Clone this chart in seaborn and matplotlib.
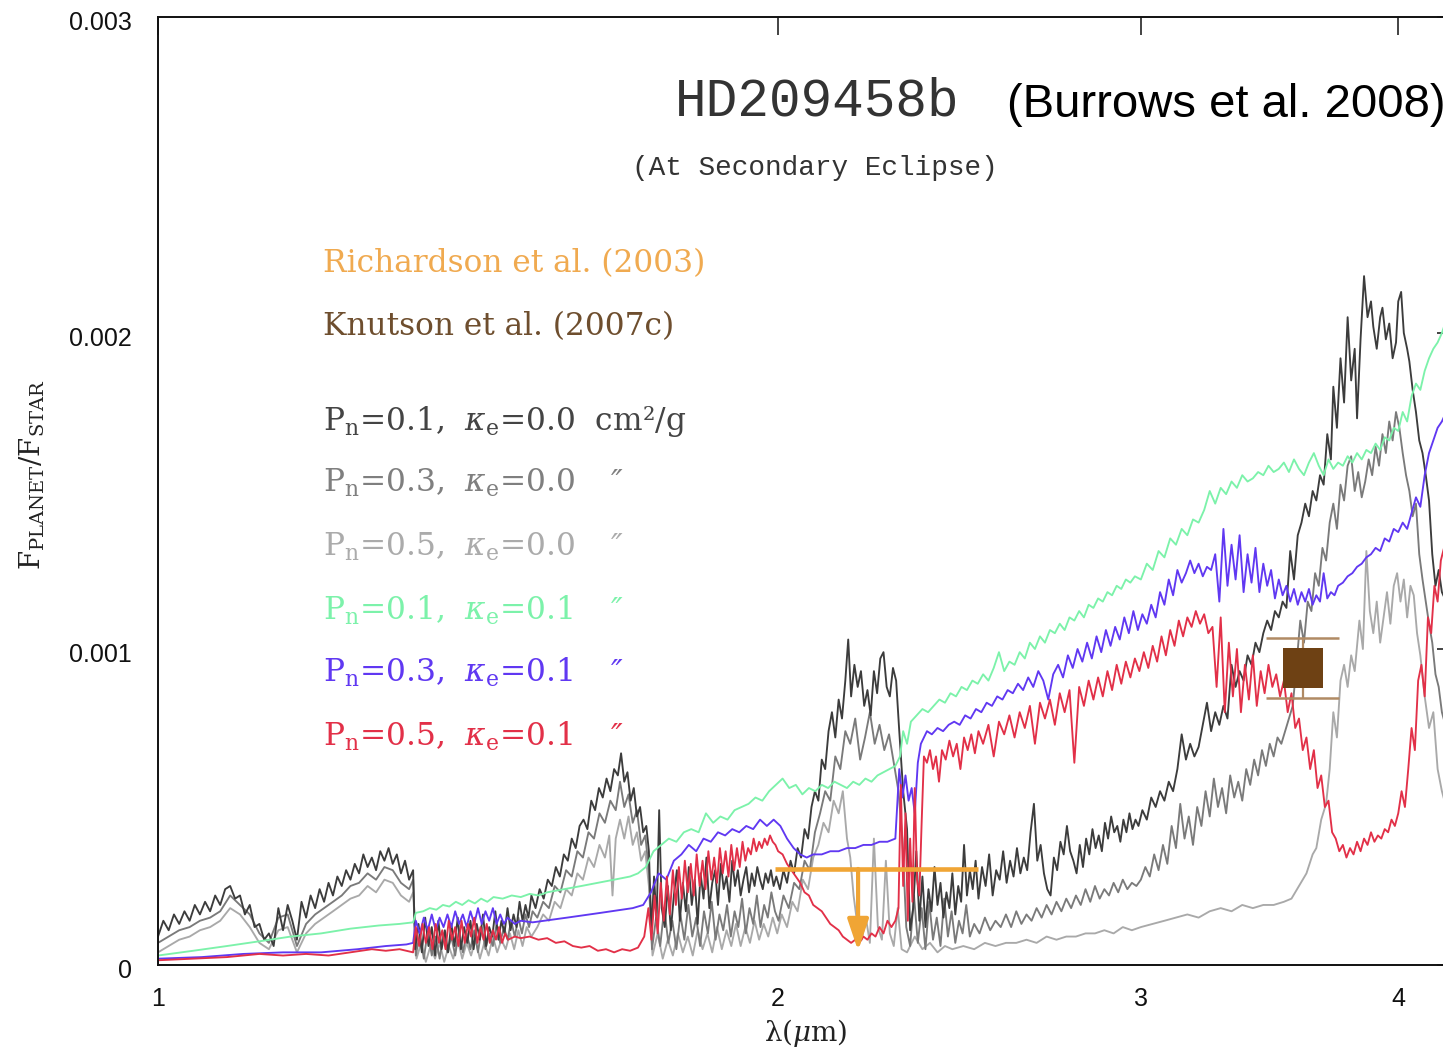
import numpy as np
import pandas as pd
import matplotlib
matplotlib.use("Agg")
import matplotlib.pyplot as plt
import matplotlib.transforms as mtransforms
from matplotlib.ticker import NullLocator, FixedLocator
import seaborn as sns

sns.set_style("white")
plt.rcParams['font.family'] = ['DejaVu Serif']
plt.rcParams['mathtext.fontset'] = 'dejavuserif'

# ---------------- data (wavelength in micron, flux ratio in units of 1e-3) ----------------
dark_pts = [
 (1.000,0.09),(1.006,0.14),(1.012,0.11),(1.018,0.16),(1.024,0.13),(1.030,0.17),(1.036,0.14),(1.042,0.19),(1.048,0.16),(1.054,0.20),
 (1.060,0.17),(1.066,0.22),(1.072,0.19),(1.078,0.24),(1.084,0.25),(1.090,0.21),(1.096,0.22),(1.102,0.16),(1.108,0.19),(1.114,0.12),
 (1.120,0.13),(1.126,0.08),(1.132,0.10),(1.138,0.06),(1.144,0.18),(1.150,0.11),(1.156,0.19),(1.162,0.14),(1.168,0.08),(1.174,0.20),
 (1.180,0.15),(1.186,0.22),(1.192,0.18),(1.198,0.24),(1.204,0.20),(1.210,0.26),(1.216,0.22),(1.222,0.28),(1.228,0.25),(1.234,0.30),
 (1.240,0.27),(1.246,0.32),(1.252,0.29),(1.258,0.35),(1.264,0.31),(1.270,0.34),(1.276,0.30),(1.282,0.36),(1.288,0.33),(1.294,0.37),
 (1.300,0.32),(1.306,0.35),(1.312,0.29),(1.318,0.33),(1.324,0.27),(1.330,0.30),
 (1.333,0.05),(1.338,0.13),(1.343,0.04),(1.348,0.15),(1.353,0.06),(1.358,0.12),(1.363,0.03),(1.368,0.14),(1.373,0.05),(1.378,0.11),
 (1.383,0.04),(1.388,0.13),(1.393,0.06),(1.398,0.15),(1.403,0.05),(1.408,0.12),(1.413,0.07),(1.418,0.14),(1.423,0.05),(1.428,0.13),
 (1.433,0.08),(1.438,0.16),(1.443,0.06),(1.448,0.12),(1.453,0.09),(1.458,0.17),(1.463,0.08),(1.468,0.14),(1.473,0.10),(1.478,0.18),
 (1.483,0.11),(1.488,0.16),(1.493,0.12),(1.498,0.20),(1.503,0.14),(1.508,0.19),(1.513,0.15),(1.518,0.22),
 (1.525,0.18),(1.532,0.24),(1.539,0.21),(1.546,0.27),(1.553,0.25),(1.560,0.31),(1.567,0.28),(1.574,0.35),(1.581,0.33),(1.588,0.40),
 (1.595,0.37),(1.602,0.44),(1.609,0.46),(1.616,0.43),(1.623,0.52),(1.630,0.49),(1.637,0.56),(1.644,0.53),(1.651,0.59),(1.658,0.55),
 (1.665,0.62),(1.672,0.60),(1.678,0.67),(1.684,0.58),(1.690,0.61),(1.696,0.52),(1.702,0.56),(1.708,0.47),(1.714,0.50),(1.720,0.42),
 (1.726,0.44),(1.731,0.36),
 (1.736,0.10),(1.741,0.28),(1.746,0.14),(1.751,0.49),(1.756,0.18),(1.762,0.12),(1.768,0.25),(1.774,0.11),(1.780,0.22),(1.786,0.30),
 (1.792,0.14),(1.798,0.26),(1.804,0.17),(1.810,0.31),(1.816,0.19),(1.822,0.27),(1.828,0.13),(1.834,0.29),(1.840,0.21),(1.846,0.34),
 (1.852,0.18),(1.858,0.26),(1.864,0.30),(1.870,0.19),(1.876,0.32),(1.882,0.24),(1.888,0.28),(1.894,0.20),(1.900,0.33),(1.906,0.25),
 (1.912,0.30),(1.918,0.22),(1.924,0.27),(1.930,0.31),(1.936,0.23),(1.942,0.29),(1.948,0.25),(1.954,0.31),(1.960,0.27),(1.966,0.24),
 (1.972,0.29),(1.978,0.26),(1.984,0.30),(1.990,0.25),(1.996,0.28),
 (2.004,0.24),(2.012,0.30),(2.020,0.26),(2.028,0.33),(2.036,0.29),(2.044,0.37),(2.052,0.34),(2.060,0.43),(2.068,0.40),(2.076,0.50),
 (2.084,0.55),(2.092,0.52),(2.100,0.65),(2.108,0.62),(2.116,0.74),(2.124,0.80),(2.132,0.72),(2.140,0.84),(2.148,0.78),(2.156,0.90),
 (2.163,1.03),(2.170,0.85),(2.178,0.95),(2.186,0.88),(2.194,0.93),(2.202,0.82),(2.210,0.87),(2.218,0.79),(2.226,0.93),(2.234,0.86),
 (2.242,0.97),(2.250,0.99),(2.258,0.88),(2.266,0.85),(2.274,0.94),(2.282,0.90),(2.290,0.74),(2.300,0.55),(2.310,0.43),(2.318,0.11),
 (2.326,0.18),(2.334,0.36),(2.342,0.14),(2.350,0.28),(2.358,0.12),(2.366,0.24),(2.374,0.17),(2.382,0.31),(2.390,0.19),(2.398,0.26),
 (2.406,0.15),(2.414,0.23),(2.422,0.18),(2.430,0.29),(2.438,0.16),(2.446,0.25),(2.454,0.20),(2.462,0.38),(2.470,0.22),(2.478,0.30),
 (2.486,0.24),(2.494,0.33),(2.502,0.21),(2.512,0.31),(2.522,0.25),(2.532,0.35),(2.542,0.22),(2.552,0.30),(2.562,0.27),(2.572,0.36),
 (2.582,0.26),(2.592,0.33),(2.602,0.28),(2.612,0.37),(2.622,0.29),(2.632,0.34),(2.642,0.30),(2.652,0.42),(2.662,0.51),(2.672,0.33),
 (2.682,0.38),(2.692,0.29),(2.702,0.24),(2.712,0.22),(2.722,0.34),(2.732,0.30),(2.742,0.39),(2.752,0.35),(2.762,0.44),(2.772,0.36),
 (2.782,0.33),(2.792,0.29),(2.802,0.38),(2.812,0.31),(2.822,0.40),(2.832,0.35),(2.842,0.43),(2.852,0.37),(2.862,0.41),(2.872,0.36),
 (2.882,0.45),(2.892,0.40),(2.902,0.47),(2.912,0.42),(2.922,0.44),(2.932,0.39),(2.942,0.46),(2.952,0.42),(2.962,0.48),(2.972,0.43),
 (2.982,0.46),(2.992,0.44),
 (3.005,0.49),(3.020,0.46),(3.035,0.53),(3.050,0.50),(3.065,0.55),(3.080,0.52),(3.095,0.58),(3.110,0.55),(3.125,0.62),(3.140,0.73),
 (3.155,0.65),(3.170,0.70),(3.185,0.66),(3.200,0.69),(3.215,0.76),(3.230,0.83),(3.245,0.74),(3.260,0.80),(3.275,0.76),(3.290,0.82),
 (3.305,0.78),(3.320,0.95),(3.335,0.88),(3.350,0.93),(3.365,0.90),(3.380,0.98),(3.395,0.95),(3.410,1.02),(3.425,0.99),(3.440,1.05),
 (3.455,1.09),(3.470,1.06),(3.485,1.12),(3.500,1.10),(3.515,1.15),(3.530,1.13),(3.545,1.31),(3.560,1.22),(3.575,1.36),(3.590,1.40),
 (3.605,1.46),(3.620,1.42),(3.635,1.50),(3.650,1.47),(3.665,1.55),(3.680,1.52),(3.695,1.68),(3.710,1.60),(3.720,1.83),(3.735,1.70),
 (3.750,1.92),(3.765,1.78),(3.780,2.05),(3.795,1.85),(3.810,1.95),(3.820,1.73),(3.835,1.98),(3.850,2.18),(3.865,2.05),(3.880,2.10),
 (3.890,2.02),(3.905,1.95),(3.920,2.05),(3.930,2.08),(3.945,1.98),(3.960,2.03),(3.975,1.92),(3.990,1.97),(4.000,2.10),(4.013,2.13),
 (4.025,2.00),(4.040,1.95),(4.050,1.91),(4.065,1.82),(4.080,1.75),(4.095,1.66),(4.110,1.62),(4.125,1.55),(4.140,1.47),(4.155,1.30),
 (4.170,1.20),(4.185,1.25),(4.200,1.18),(4.220,1.15),
]

mid_pts = [
 (1.000,0.07),(1.012,0.09),(1.024,0.11),(1.036,0.12),(1.048,0.14),(1.060,0.15),(1.072,0.17),(1.084,0.22),(1.096,0.19),(1.108,0.16),
 (1.120,0.10),(1.132,0.07),(1.144,0.15),(1.156,0.16),(1.168,0.06),(1.180,0.13),(1.192,0.16),(1.204,0.18),(1.216,0.20),(1.228,0.22),
 (1.240,0.25),(1.252,0.26),(1.264,0.29),(1.276,0.27),(1.288,0.31),(1.300,0.30),(1.312,0.26),(1.324,0.24),(1.330,0.27),
 (1.334,0.03),(1.340,0.10),(1.346,0.02),(1.352,0.11),(1.358,0.03),(1.364,0.09),(1.370,0.02),(1.376,0.10),(1.382,0.04),(1.388,0.09),
 (1.394,0.03),(1.400,0.11),(1.406,0.04),(1.412,0.10),(1.418,0.05),(1.424,0.11),(1.430,0.04),(1.436,0.12),(1.442,0.05),(1.448,0.10),
 (1.454,0.06),(1.460,0.13),(1.466,0.07),(1.472,0.12),(1.478,0.08),(1.484,0.14),(1.490,0.09),(1.496,0.15),(1.502,0.10),(1.508,0.16),
 (1.514,0.12),(1.520,0.17),
 (1.528,0.15),(1.538,0.20),(1.548,0.18),(1.558,0.25),(1.568,0.23),(1.578,0.30),(1.588,0.28),(1.598,0.36),(1.608,0.34),(1.618,0.42),
 (1.628,0.40),(1.638,0.48),(1.648,0.45),(1.658,0.52),(1.668,0.49),(1.676,0.58),(1.684,0.50),(1.692,0.54),(1.700,0.45),(1.708,0.49),
 (1.716,0.38),(1.724,0.41),(1.731,0.30),
 (1.737,0.05),(1.745,0.15),(1.753,0.06),(1.761,0.18),(1.769,0.07),(1.777,0.14),(1.785,0.05),(1.793,0.16),(1.801,0.08),(1.809,0.19),
 (1.817,0.09),(1.825,0.15),(1.833,0.06),(1.841,0.17),(1.849,0.10),(1.857,0.20),(1.865,0.08),(1.873,0.16),(1.881,0.11),(1.889,0.19),
 (1.897,0.09),(1.905,0.17),(1.913,0.12),(1.921,0.21),(1.929,0.10),(1.937,0.18),(1.945,0.13),(1.953,0.22),(1.961,0.12),(1.969,0.19),
 (1.977,0.15),(1.985,0.23),(1.993,0.17),
 (2.001,0.14),(2.012,0.22),(2.024,0.18),(2.036,0.26),(2.048,0.24),(2.060,0.33),(2.072,0.30),(2.084,0.42),(2.096,0.48),(2.108,0.55),
 (2.120,0.52),(2.132,0.66),(2.144,0.62),(2.156,0.74),(2.168,0.70),(2.180,0.78),(2.192,0.65),(2.204,0.72),(2.216,0.80),(2.228,0.70),
 (2.240,0.76),(2.252,0.68),(2.264,0.73),(2.276,0.64),(2.288,0.55),(2.298,0.40),(2.308,0.12),
 (2.318,0.06),(2.328,0.22),(2.338,0.07),(2.348,0.18),(2.358,0.05),(2.368,0.20),(2.378,0.08),(2.388,0.15),(2.398,0.06),(2.408,0.21),
 (2.418,0.09),(2.428,0.17),(2.438,0.07),(2.448,0.14),(2.458,0.10),(2.468,0.19),(2.478,0.09),(2.490,0.13),(2.505,0.10),(2.520,0.15),
 (2.535,0.11),(2.550,0.14),(2.565,0.12),(2.580,0.16),(2.595,0.12),(2.610,0.17),(2.625,0.13),(2.640,0.16),(2.655,0.14),(2.670,0.18),
 (2.685,0.15),(2.700,0.19),(2.715,0.16),(2.730,0.20),(2.745,0.17),(2.760,0.21),(2.775,0.18),(2.790,0.22),(2.805,0.19),(2.820,0.24),
 (2.835,0.20),(2.850,0.25),(2.865,0.21),(2.880,0.24),(2.895,0.22),(2.910,0.26),(2.925,0.23),(2.940,0.27),(2.955,0.24),(2.970,0.26),
 (2.985,0.25),
 (3.000,0.27),(3.015,0.31),(3.030,0.28),(3.045,0.35),(3.060,0.30),(3.075,0.38),(3.090,0.32),(3.105,0.44),(3.120,0.37),(3.135,0.51),
 (3.150,0.40),(3.165,0.47),(3.180,0.38),(3.195,0.50),(3.210,0.44),(3.225,0.55),(3.240,0.47),(3.255,0.59),(3.270,0.50),(3.285,0.56),
 (3.300,0.48),(3.315,0.60),(3.330,0.53),(3.345,0.58),(3.360,0.52),(3.375,0.62),(3.390,0.57),(3.405,0.65),(3.420,0.60),(3.435,0.68),
 (3.450,0.63),(3.465,0.70),(3.480,0.66),(3.495,0.72),(3.510,0.70),(3.525,0.74),(3.540,0.78),(3.555,0.82),(3.570,0.95),(3.585,1.09),
 (3.600,1.02),(3.615,1.15),(3.630,1.12),(3.645,1.24),(3.660,1.20),(3.675,1.32),(3.690,1.28),(3.705,1.40),(3.720,1.46),(3.735,1.38),
 (3.750,1.52),(3.765,1.47),(3.780,1.58),(3.795,1.61),(3.810,1.50),(3.825,1.56),(3.840,1.48),(3.855,1.53),(3.870,1.60),(3.885,1.55),
 (3.900,1.64),(3.915,1.58),(3.930,1.68),(3.945,1.62),(3.960,1.72),(3.975,1.66),(3.990,1.75),(4.005,1.70),(4.020,1.62),(4.035,1.55),
 (4.050,1.50),(4.065,1.42),(4.080,1.46),(4.095,1.30),(4.110,1.22),(4.125,1.15),(4.140,1.08),(4.155,1.02),(4.170,0.92),(4.185,0.88),
 (4.200,0.80),(4.220,0.75),
]

light_pts = [
 (1.000,0.04),(1.012,0.06),(1.024,0.08),(1.036,0.09),(1.048,0.11),(1.060,0.12),(1.072,0.14),(1.084,0.18),(1.096,0.16),(1.108,0.12),
 (1.120,0.07),(1.132,0.05),(1.144,0.11),(1.156,0.12),(1.168,0.04),(1.180,0.10),(1.192,0.13),(1.204,0.15),(1.216,0.17),(1.228,0.19),
 (1.240,0.21),(1.252,0.22),(1.264,0.25),(1.276,0.23),(1.288,0.27),(1.300,0.26),(1.312,0.22),(1.324,0.20),(1.330,0.23),
 (1.335,0.02),(1.342,0.07),(1.349,0.01),(1.356,0.06),(1.363,0.02),(1.370,0.07),(1.377,0.01),(1.384,0.06),(1.391,0.02),(1.398,0.08),
 (1.405,0.02),(1.412,0.07),(1.419,0.03),(1.426,0.08),(1.433,0.02),(1.440,0.07),(1.447,0.03),(1.454,0.09),(1.461,0.04),(1.468,0.08),
 (1.475,0.05),(1.482,0.10),(1.489,0.05),(1.496,0.11),(1.503,0.06),(1.510,0.12),(1.518,0.09),
 (1.528,0.12),(1.538,0.16),(1.548,0.14),(1.558,0.20),(1.568,0.18),(1.578,0.24),(1.588,0.22),(1.598,0.29),(1.608,0.27),(1.618,0.34),
 (1.628,0.31),(1.638,0.38),(1.648,0.34),(1.656,0.41),(1.662,0.22),(1.668,0.40),(1.676,0.46),(1.684,0.40),(1.692,0.47),(1.700,0.38),
 (1.708,0.42),(1.716,0.33),(1.724,0.36),(1.731,0.25),
 (1.738,0.03),(1.748,0.10),(1.758,0.02),(1.768,0.08),(1.778,0.03),(1.788,0.10),(1.798,0.04),(1.808,0.09),(1.818,0.03),(1.828,0.11),
 (1.838,0.05),(1.848,0.10),(1.858,0.04),(1.868,0.12),(1.878,0.05),(1.888,0.11),(1.898,0.06),(1.908,0.13),(1.918,0.06),(1.928,0.12),
 (1.938,0.07),(1.948,0.14),(1.958,0.08),(1.968,0.13),(1.978,0.09),(1.988,0.15),(1.998,0.10),
 (2.008,0.16),(2.020,0.12),(2.032,0.20),(2.044,0.17),(2.056,0.27),(2.068,0.24),(2.080,0.34),(2.092,0.38),(2.104,0.45),(2.116,0.42),
 (2.128,0.52),(2.140,0.48),(2.150,0.55),(2.160,0.40),(2.168,0.34),(2.176,0.22),(2.186,0.12),(2.196,0.08),(2.206,0.15),(2.216,0.07),
 (2.226,0.40),(2.236,0.12),(2.246,0.08),(2.256,0.33),(2.266,0.10),(2.276,0.06),(2.286,0.18),(2.296,0.05),
 (2.310,0.04),(2.330,0.09),(2.350,0.05),(2.370,0.07),(2.390,0.04),(2.410,0.06),(2.430,0.05),(2.460,0.06),(2.490,0.05),(2.520,0.07),
 (2.550,0.06),(2.580,0.07),(2.610,0.07),(2.640,0.08),(2.670,0.07),(2.700,0.09),(2.730,0.08),(2.760,0.09),(2.790,0.09),(2.820,0.10),
 (2.850,0.10),(2.880,0.11),(2.910,0.10),(2.940,0.12),(2.970,0.11),
 (3.000,0.12),(3.040,0.13),(3.080,0.14),(3.120,0.15),(3.160,0.16),(3.200,0.15),(3.240,0.17),(3.280,0.18),(3.320,0.17),(3.360,0.19),
 (3.400,0.18),(3.440,0.19),(3.480,0.19),(3.520,0.20),(3.550,0.21),(3.580,0.25),(3.610,0.29),(3.635,0.35),(3.650,0.37),(3.670,0.46),
 (3.690,0.51),(3.705,0.62),(3.720,0.80),(3.735,0.72),(3.750,0.90),(3.765,0.95),(3.780,0.88),(3.795,0.98),(3.810,0.93),(3.830,1.09),
 (3.845,1.00),(3.860,1.31),(3.875,1.12),(3.890,1.05),(3.905,1.15),(3.920,1.02),(3.935,1.10),(3.950,1.18),(3.965,1.08),(3.980,1.20),
 (3.995,1.24),(4.010,1.15),(4.025,1.22),(4.040,1.10),(4.055,1.20),(4.070,1.17),(4.085,1.05),(4.100,0.98),(4.120,0.85),(4.140,0.75),
 (4.160,0.80),(4.180,0.62),(4.200,0.55),(4.220,0.50),
]

green_pts = [
 (1.00,0.03),(1.04,0.045),(1.08,0.06),(1.12,0.075),(1.16,0.09),(1.20,0.10),(1.24,0.115),(1.28,0.125),(1.31,0.13),(1.330,0.135),
 (1.334,0.165),(1.345,0.17),(1.355,0.18),(1.365,0.175),(1.375,0.19),(1.385,0.185),(1.395,0.20),(1.405,0.19),(1.415,0.205),(1.425,0.195),
 (1.435,0.21),(1.445,0.20),(1.455,0.215),(1.47,0.21),(1.485,0.22),(1.50,0.215),(1.515,0.225),(1.53,0.22),(1.545,0.23),(1.56,0.235),
 (1.575,0.24),(1.59,0.245),(1.605,0.25),(1.62,0.255),(1.635,0.26),(1.65,0.265),(1.665,0.27),(1.68,0.275),(1.695,0.28),(1.71,0.29),
 (1.725,0.31),(1.74,0.36),(1.755,0.38),(1.77,0.40),(1.785,0.39),(1.80,0.42),(1.815,0.43),(1.83,0.42),(1.845,0.48),(1.86,0.45),
 (1.875,0.47),(1.89,0.46),(1.905,0.49),(1.92,0.50),(1.935,0.51),(1.95,0.53),(1.965,0.52),(1.98,0.55),(1.995,0.57),(2.01,0.59),
 (2.025,0.56),(2.04,0.57),(2.055,0.54),(2.07,0.56),(2.085,0.55),(2.10,0.57),(2.115,0.56),(2.13,0.58),(2.145,0.57),(2.16,0.56),
 (2.175,0.58),(2.19,0.57),(2.205,0.59),(2.22,0.58),(2.235,0.60),(2.25,0.61),(2.265,0.62),(2.28,0.63),(2.292,0.66),(2.300,0.74),
 (2.31,0.70),(2.32,0.77),(2.335,0.79),(2.35,0.81),(2.365,0.80),(2.38,0.82),(2.395,0.84),(2.41,0.83),(2.425,0.86),(2.44,0.85),
 (2.455,0.88),(2.47,0.87),(2.485,0.90),(2.50,0.89),(2.515,0.92),(2.53,0.90),(2.545,0.94),(2.56,0.99),(2.575,0.93),(2.59,0.96),
 (2.605,0.95),(2.62,0.99),(2.635,0.97),(2.65,1.02),(2.665,1.00),(2.68,1.04),(2.695,1.02),(2.71,1.06),(2.725,1.05),(2.74,1.08),
 (2.755,1.06),(2.77,1.10),(2.785,1.09),(2.80,1.12),(2.815,1.10),(2.83,1.14),(2.845,1.13),(2.86,1.16),(2.875,1.15),(2.89,1.18),
 (2.905,1.17),(2.92,1.20),(2.935,1.19),(2.95,1.22),(2.965,1.21),(2.98,1.23),(3.00,1.22),(3.02,1.27),(3.04,1.25),(3.06,1.31),
 (3.08,1.29),(3.10,1.35),(3.12,1.33),(3.14,1.38),(3.16,1.36),(3.18,1.41),(3.20,1.40),(3.22,1.44),(3.24,1.50),(3.26,1.46),
 (3.28,1.51),(3.30,1.49),(3.32,1.53),(3.34,1.51),(3.36,1.55),(3.38,1.53),(3.40,1.54),(3.42,1.56),(3.44,1.55),(3.46,1.58),
 (3.48,1.56),(3.50,1.57),(3.52,1.59),(3.54,1.56),(3.56,1.60),(3.58,1.57),(3.60,1.55),(3.62,1.59),(3.64,1.62),(3.66,1.58),
 (3.68,1.55),(3.70,1.60),(3.72,1.57),(3.74,1.59),(3.76,1.58),(3.78,1.61),(3.80,1.59),(3.82,1.62),(3.84,1.60),(3.86,1.63),
 (3.88,1.62),(3.90,1.65),(3.92,1.63),(3.94,1.67),(3.96,1.66),(3.98,1.70),(4.00,1.69),(4.02,1.75),(4.04,1.72),(4.06,1.80),
 (4.08,1.84),(4.10,1.82),(4.12,1.88),(4.14,1.92),(4.16,1.95),(4.18,1.97),(4.20,2.00),(4.22,2.04),
]

blue_pts = [
 (1.00,0.02),(1.05,0.025),(1.10,0.035),(1.15,0.04),(1.20,0.04),(1.25,0.05),(1.29,0.06),(1.32,0.065),(1.330,0.07),
 (1.334,0.14),(1.340,0.10),(1.346,0.15),(1.352,0.11),(1.358,0.16),(1.364,0.11),(1.370,0.15),(1.376,0.12),(1.382,0.16),(1.388,0.12),
 (1.394,0.17),(1.400,0.13),(1.406,0.16),(1.412,0.12),(1.418,0.17),(1.424,0.13),(1.430,0.18),(1.436,0.13),(1.442,0.17),(1.448,0.14),
 (1.454,0.18),(1.460,0.13),(1.466,0.16),(1.472,0.13),(1.478,0.15),(1.49,0.13),(1.50,0.14),(1.52,0.135),(1.54,0.14),(1.56,0.145),
 (1.58,0.15),(1.60,0.155),(1.62,0.16),(1.64,0.165),(1.66,0.17),(1.68,0.175),(1.70,0.18),(1.72,0.19),(1.735,0.23),(1.75,0.29),
 (1.765,0.27),(1.78,0.33),(1.795,0.35),(1.81,0.38),(1.825,0.36),(1.84,0.40),(1.855,0.39),(1.87,0.42),(1.885,0.41),(1.90,0.43),
 (1.915,0.42),(1.93,0.44),(1.945,0.43),(1.96,0.46),(1.975,0.44),(1.99,0.46),(2.005,0.44),(2.02,0.40),(2.035,0.37),(2.05,0.35),
 (2.065,0.34),(2.08,0.35),(2.10,0.35),(2.12,0.36),(2.14,0.36),(2.16,0.37),(2.18,0.37),(2.20,0.38),(2.22,0.38),(2.24,0.39),
 (2.26,0.39),(2.28,0.40),(2.290,0.62),(2.298,0.53),(2.306,0.60),(2.314,0.52),(2.322,0.56),(2.330,0.48),(2.338,0.64),(2.346,0.70),
 (2.354,0.72),(2.362,0.74),(2.375,0.73),(2.39,0.75),(2.405,0.74),(2.42,0.76),(2.435,0.77),(2.45,0.76),(2.465,0.79),(2.48,0.78),
 (2.495,0.81),(2.51,0.80),(2.525,0.83),(2.54,0.82),(2.555,0.85),(2.57,0.84),(2.585,0.87),(2.60,0.86),(2.615,0.89),(2.63,0.87),
 (2.645,0.91),(2.66,0.88),(2.675,0.93),(2.69,0.90),(2.705,0.84),(2.72,0.92),(2.735,0.95),(2.75,0.91),(2.765,0.98),(2.78,0.94),
 (2.795,1.00),(2.81,0.96),(2.825,1.02),(2.84,0.97),(2.855,1.04),(2.87,0.99),(2.885,1.06),(2.90,1.01),(2.915,1.07),(2.93,1.03),
 (2.945,1.10),(2.96,1.05),(2.975,1.12),(2.99,1.06),(3.005,1.11),(3.02,1.08),(3.035,1.14),(3.05,1.10),(3.065,1.18),(3.08,1.14),
 (3.095,1.22),(3.11,1.17),(3.125,1.25),(3.14,1.21),(3.155,1.24),(3.17,1.28),(3.185,1.24),(3.20,1.27),(3.215,1.23),(3.23,1.26),
 (3.245,1.25),(3.26,1.30),(3.275,1.15),(3.29,1.38),(3.305,1.20),(3.32,1.33),(3.335,1.22),(3.35,1.36),(3.365,1.18),(3.38,1.30),
 (3.395,1.21),(3.41,1.32),(3.425,1.18),(3.44,1.27),(3.455,1.20),(3.47,1.25),(3.485,1.16),(3.50,1.22),(3.515,1.17),(3.53,1.20),
 (3.545,1.15),(3.56,1.19),(3.575,1.14),(3.59,1.18),(3.605,1.15),(3.62,1.19),(3.635,1.14),(3.65,1.17),(3.665,1.15),(3.68,1.24),
 (3.695,1.16),(3.71,1.18),(3.725,1.17),(3.74,1.20),(3.76,1.21),(3.78,1.23),(3.80,1.24),(3.82,1.26),(3.84,1.27),(3.86,1.29),
 (3.88,1.30),(3.90,1.32),(3.92,1.31),(3.94,1.35),(3.96,1.34),(3.98,1.38),(4.00,1.37),(4.02,1.40),(4.04,1.38),(4.06,1.43),
 (4.08,1.48),(4.10,1.45),(4.12,1.55),(4.14,1.62),(4.16,1.66),(4.18,1.70),(4.20,1.72),(4.22,1.75),
]

red_pts = [
 (1.00,0.015),(1.04,0.02),(1.08,0.025),(1.12,0.035),(1.15,0.03),(1.18,0.035),(1.21,0.03),(1.24,0.04),(1.27,0.05),(1.29,0.045),
 (1.31,0.05),(1.330,0.04),(1.334,0.12),(1.339,0.06),(1.344,0.13),(1.349,0.07),(1.354,0.12),(1.359,0.05),(1.364,0.13),(1.369,0.07),
 (1.374,0.11),(1.379,0.05),(1.384,0.14),(1.389,0.08),(1.394,0.12),(1.399,0.06),(1.404,0.14),(1.409,0.07),(1.414,0.13),(1.419,0.09),
 (1.424,0.15),(1.429,0.07),(1.434,0.12),(1.439,0.08),(1.444,0.13),(1.449,0.07),(1.454,0.11),(1.459,0.08),(1.464,0.12),(1.469,0.07),
 (1.474,0.10),(1.479,0.08),(1.49,0.09),(1.50,0.085),(1.515,0.09),(1.53,0.08),(1.545,0.085),(1.56,0.07),(1.575,0.075),(1.59,0.06),
 (1.605,0.055),(1.62,0.06),(1.635,0.045),(1.65,0.05),(1.665,0.04),(1.68,0.05),(1.695,0.045),(1.71,0.055),(1.722,0.09),(1.730,0.18),
 (1.736,0.08),(1.742,0.22),(1.748,0.10),(1.754,0.26),(1.760,0.14),(1.766,0.28),(1.772,0.16),(1.778,0.30),(1.784,0.19),(1.790,0.31),
 (1.796,0.21),(1.802,0.33),(1.808,0.23),(1.814,0.32),(1.820,0.22),(1.826,0.35),(1.832,0.25),(1.838,0.33),(1.844,0.24),(1.850,0.36),
 (1.856,0.27),(1.862,0.34),(1.868,0.26),(1.874,0.37),(1.880,0.29),(1.886,0.36),(1.892,0.28),(1.898,0.38),(1.904,0.30),(1.910,0.37),
 (1.916,0.31),(1.922,0.39),(1.928,0.33),(1.934,0.37),(1.940,0.35),(1.946,0.40),(1.952,0.36),(1.958,0.39),(1.964,0.37),(1.970,0.40),
 (1.976,0.38),(1.982,0.41),(1.988,0.39),(1.994,0.38),(2.00,0.36),(2.01,0.35),(2.02,0.32),(2.03,0.30),(2.04,0.28),(2.05,0.26),
 (2.06,0.23),(2.07,0.22),(2.08,0.19),(2.09,0.18),(2.10,0.17),(2.11,0.15),(2.12,0.13),(2.13,0.12),(2.14,0.11),(2.15,0.09),
 (2.16,0.08),(2.17,0.07),(2.18,0.08),(2.19,0.07),(2.20,0.09),(2.21,0.08),(2.22,0.10),(2.23,0.09),(2.24,0.12),(2.25,0.10),
 (2.26,0.14),(2.27,0.12),(2.28,0.14),(2.288,0.18),(2.294,0.57),(2.300,0.25),(2.306,0.48),(2.312,0.14),(2.318,0.40),(2.324,0.20),
 (2.330,0.56),(2.336,0.27),(2.342,0.22),(2.348,0.45),(2.354,0.66),(2.362,0.64),(2.370,0.68),(2.378,0.62),(2.386,0.66),(2.394,0.58),
 (2.402,0.68),(2.412,0.65),(2.422,0.71),(2.432,0.66),(2.442,0.70),(2.452,0.62),(2.462,0.72),(2.472,0.68),(2.482,0.73),(2.492,0.67),
 (2.502,0.74),(2.515,0.70),(2.53,0.76),(2.545,0.66),(2.56,0.77),(2.575,0.73),(2.59,0.79),(2.605,0.72),(2.62,0.80),(2.635,0.75),
 (2.65,0.82),(2.665,0.70),(2.68,0.83),(2.695,0.78),(2.71,0.84),(2.725,0.76),(2.74,0.86),(2.755,0.80),(2.77,0.87),(2.785,0.64),
 (2.80,0.88),(2.815,0.82),(2.83,0.90),(2.845,0.84),(2.86,0.91),(2.875,0.85),(2.89,0.93),(2.905,0.87),(2.92,0.95),(2.935,0.89),
 (2.95,0.96),(2.965,0.91),(2.98,0.97),(2.995,0.93),(3.01,0.99),(3.025,0.94),(3.04,1.01),(3.055,0.96),(3.07,1.04),(3.085,0.98),
 (3.10,1.06),(3.115,1.01),(3.13,1.09),(3.145,1.04),(3.16,1.10),(3.175,1.07),(3.19,1.12),(3.205,1.08),(3.22,1.11),(3.235,1.05),
 (3.25,1.07),(3.265,0.88),(3.28,1.10),(3.295,0.80),(3.31,1.02),(3.325,0.85),(3.34,1.00),(3.355,0.80),(3.37,0.95),(3.385,0.84),
 (3.40,0.98),(3.415,0.82),(3.43,0.93),(3.445,0.86),(3.46,0.95),(3.475,0.88),(3.49,0.92),(3.505,0.85),(3.52,0.90),(3.535,0.80),
 (3.55,0.86),(3.565,0.75),(3.58,0.78),(3.595,0.68),(3.61,0.72),(3.625,0.62),(3.64,0.68),(3.655,0.56),(3.67,0.60),(3.685,0.50),
 (3.70,0.52),(3.715,0.42),(3.73,0.40),(3.745,0.36),(3.76,0.38),(3.775,0.34),(3.79,0.37),(3.805,0.35),(3.82,0.39),(3.835,0.36),
 (3.85,0.40),(3.865,0.38),(3.88,0.42),(3.895,0.39),(3.91,0.41),(3.925,0.40),(3.94,0.43),(3.955,0.42),(3.97,0.46),(3.985,0.44),
 (4.00,0.48),(4.015,0.55),(4.03,0.50),(4.045,0.62),(4.06,0.75),(4.075,0.68),(4.09,0.90),(4.105,0.95),(4.12,0.85),(4.135,1.10),
 (4.15,1.05),(4.165,1.20),(4.18,1.15),(4.195,1.28),(4.21,1.32),(4.22,1.35),
]

# observations
richardson_band = [1.993, 2.50]     # micron
richardson_center = 2.187
richardson_limit = 0.304            # 1e-3
richardson_tip = 0.045
knutson_lam = 3.596
knutson_band = [3.45, 3.745]        # micron (extent of the error-bar caps)
knutson_val = 0.94
knutson_err = 0.094

series_names = ["Pn=0.5,k=0.0", "Pn=0.3,k=0.0", "Pn=0.1,k=0.0", "Pn=0.1,k=0.1", "Pn=0.3,k=0.1", "Pn=0.5,k=0.1"]
series_pts = [light_pts, mid_pts, dark_pts, green_pts, blue_pts, red_pts]
series_colors = ["#a9a9a9", "#7a7a7a", "#3c3c3c", "#7cf2aa", "#6038f2", "#e23048"]

# ---------------- figure ----------------
W, H = 1443, 1051
fig = plt.figure(figsize=(W / 100, H / 100), dpi=100)
def fx(px): return px / W
def fy(py): return 1 - py / H

ax = fig.add_axes([fx(158), fy(965), (1455 - 158) / W, (965 - 17) / H])
ax.set_xscale("log")

for name, pts, col in zip(series_names, series_pts, series_colors):
    df = pd.DataFrame(pts, columns=["lam", "f"])
    df["flux"] = df["f"] * 1e-3
    sns.lineplot(data=df, x="lam", y="flux", color=col, lw=1.35, ax=ax,
                 estimator=None, sort=False, legend=False)

# Richardson upper limit
orange = "#f0a535"
ax.plot(richardson_band, [richardson_limit * 1e-3] * 2, color=orange, lw=3.3,
        solid_capstyle="butt", zorder=6)
ax.annotate("", xy=(richardson_center, richardson_tip * 1e-3),
            xytext=(richardson_center, richardson_limit * 1e-3),
            arrowprops=dict(arrowstyle="-|>,head_length=0.95,head_width=0.32",
                            color=orange, lw=3.0, mutation_scale=20,
                            shrinkA=0, shrinkB=0), zorder=6)

# Knutson point with error bar
cap_col = "#b08a64"
lo = (knutson_val - knutson_err) * 1e-3
hi = (knutson_val + knutson_err) * 1e-3
ax.vlines(knutson_lam, lo, hi, color=cap_col, lw=1.6, zorder=7)
ax.hlines([lo, hi], knutson_band[0], knutson_band[1], color=cap_col, lw=1.8, zorder=7)
ax.plot([knutson_lam], [knutson_val * 1e-3], marker="s", ms=28.5, mfc="#6e4114",
        mec="#6e4114", mew=0, ls="none", zorder=8)

ax.set_xlim(1.0, 10 ** ((1455 - 158) / 2060))
ax.set_ylim(0, 0.003)
ax.set_xlabel("")
ax.set_ylabel("")

ax.xaxis.set_major_locator(FixedLocator([1, 2, 3, 4]))
ax.xaxis.set_minor_locator(NullLocator())
ax.set_xticklabels(["1", "2", "3", "4"])
ax.set_yticks([0, 0.001, 0.002, 0.003])
ax.set_yticklabels(["0", "0.001", "0.002", "0.003"])
ax.yaxis.set_minor_locator(FixedLocator([0.0005, 0.0015, 0.0025]))

for sp in ax.spines.values():
    sp.set_linewidth(1.4)
    sp.set_color("#111111")
ax.tick_params(axis="both", which="major", direction="in", length=13, width=1.1,
               top=True, right=True, colors="#111111")
ax.tick_params(axis="both", which="minor", direction="in", length=6.5, width=1.1,
               top=True, right=True, colors="#111111")
ax.tick_params(axis="y", which="major", pad=19)
ax.tick_params(axis="x", which="major", pad=16)
shift = mtransforms.ScaledTranslation(0, -4 / 100, fig.dpi_scale_trans)
for lab in ax.get_xticklabels() + ax.get_yticklabels():
    lab.set_fontfamily("Liberation Sans")
    lab.set_fontsize(18)
    lab.set_color("#111111")
for lab in ax.get_yticklabels():
    lab.set_transform(lab.get_transform() + shift)

# titles
fig.text(fx(675), fy(116), "HD209458b", family="Liberation Mono", fontsize=38,
         color="#333333", ha="left", va="baseline")
fig.text(fx(1007), fy(117), "(Burrows et al. 2008)", family="Liberation Sans",
         fontsize=34, color="black", ha="left", va="baseline")
fig.text(fx(632), fy(175), "(At Secondary Eclipse)", family="Liberation Mono",
         fontsize=20, color="#333333", ha="left", va="baseline")

# legend-like labels
LS = 22.5
fig.text(fx(323), fy(272), "Richardson et al. (2003)", family="DejaVu Serif",
         fontsize=LS, color="#f0aa50", ha="left", va="baseline")
fig.text(fx(323), fy(335), "Knutson et al. (2007c)", family="DejaVu Serif",
         fontsize=LS, color="#6e4e2e", ha="left", va="baseline")

rows = [
    (r"P$_{\rm n}$=0.1,  $\kappa_{\rm e}$=0.0  cm²/g", "#444444", 430, False),
    (r"P$_{\rm n}$=0.3,  $\kappa_{\rm e}$=0.0", "#7f7f7f", 492, True),
    (r"P$_{\rm n}$=0.5,  $\kappa_{\rm e}$=0.0", "#ababab", 556, True),
    (r"P$_{\rm n}$=0.1,  $\kappa_{\rm e}$=0.1", "#7cf2aa", 620, True),
    (r"P$_{\rm n}$=0.3,  $\kappa_{\rm e}$=0.1", "#6038f2", 682, True),
    (r"P$_{\rm n}$=0.5,  $\kappa_{\rm e}$=0.1", "#e23048", 746, True),
]
for txt, col, base, ditto in rows:
    fig.text(fx(323), fy(base), txt, family="DejaVu Serif", fontsize=LS, color=col,
             ha="left", va="baseline")
    if ditto:
        fig.text(fx(611), fy(base), "\u2033", family="DejaVu Serif", fontsize=LS,
                 color=col, ha="left", va="baseline", style="italic")

# axis labels
fig.text(fx(806), fy(1033), r"λ($\mu$m)", family="DejaVu Serif", fontsize=20,
         color="#222222", ha="center", va="center")
fig.text(fx(32), fy(475), r"F$_{\rm PLANET}$/F$_{\rm STAR}$", family="DejaVu Serif",
         fontsize=20, color="#222222", rotation=90, ha="center", va="center")

fig.savefig("out.png", dpi=100)
